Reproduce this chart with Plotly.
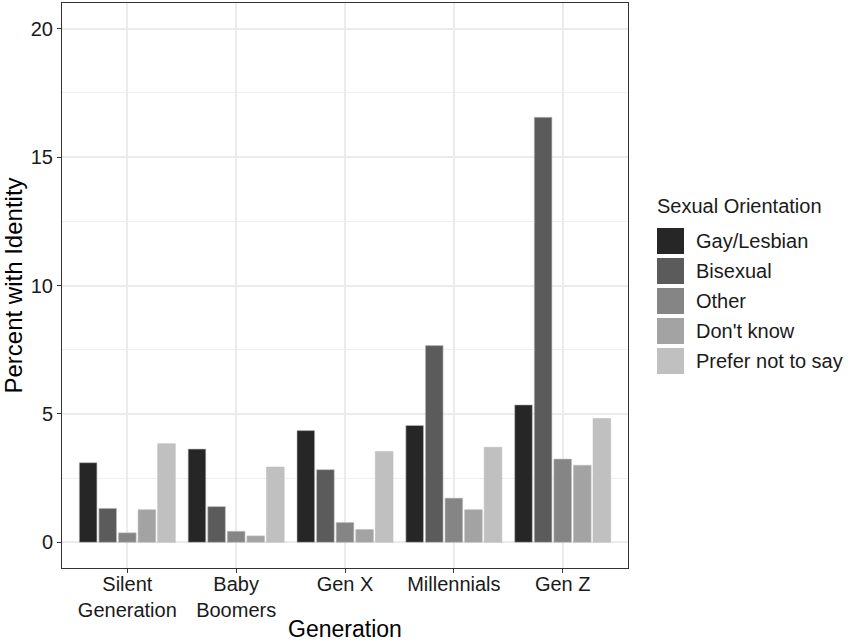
import plotly.graph_objects as go

generations = ["Silent<br>Generation", "Baby<br>Boomers", "Gen X", "Millennials", "Gen Z"]
orientations = ["Gay/Lesbian", "Bisexual", "Other", "Don't know", "Prefer not to say"]
gay_lesbian = [3.10, 3.63, 4.35, 4.55, 5.35]
bisexual = [1.32, 1.39, 2.83, 7.66, 16.55]
other = [0.37, 0.43, 0.77, 1.72, 3.24]
dont_know = [1.27, 0.25, 0.50, 1.27, 3.00]
prefer_not = [3.84, 2.93, 3.54, 3.70, 4.82]
series = [gay_lesbian, bisexual, other, dont_know, prefer_not]
colors = ["#262626", "#5b5b5b", "#858585", "#a3a3a3", "#c0c0c0"]
y_ticks = [0, 5, 10, 15, 20]

FONT = "Arial, Liberation Sans, sans-serif"
L, R, T, B = 62, 222, 3, 76
PW, PH = 850 - L - R, 644 - T - B

def px(x):
    return (x - L) / PW

def py(y):
    return 1 - (y - T) / PH

fig = go.Figure()
for name, vals, col in zip(orientations, series, colors):
    fig.add_trace(go.Bar(
        x=list(range(len(generations))), y=vals, name=name,
        marker=dict(color=col, line=dict(width=0.6, color="#bdbdbd")),
        showlegend=False,
    ))

# custom legend (ggplot-style large keys)
fig.add_annotation(xref="paper", yref="paper", x=px(655), y=py(206),
                   text="Sexual Orientation", showarrow=False, xanchor="left", yanchor="middle",
                   font=dict(size=20, color="#1a1a1a", family=FONT))
for i, (name, col) in enumerate(zip(orientations, colors)):
    top = 228 + 30 * i
    fig.add_shape(type="rect", xref="paper", yref="paper",
                  x0=px(657), x1=px(684), y0=py(top), y1=py(top + 26),
                  fillcolor=col, line=dict(width=0))
    fig.add_annotation(xref="paper", yref="paper", x=px(694),
                       y=py(top + 13), text=name, showarrow=False,
                       xanchor="left", yanchor="middle",
                       font=dict(size=20, color="#1a1a1a", family=FONT))

fig.update_layout(
    width=850, height=644,
    margin=dict(l=L, r=R, t=T, b=B),
    barmode="group", bargap=0.1, bargroupgap=0.1,
    plot_bgcolor="white", paper_bgcolor="white",
    font=dict(family=FONT, color="#1a1a1a"),
)
fig.update_xaxes(
    automargin=False,
    range=[-0.6, 4.6], tickmode="array", tickvals=list(range(len(generations))),
    ticktext=generations, tickfont=dict(size=20, color="#1a1a1a"),
    ticklabelstandoff=-6,
    showgrid=True, gridcolor="#ebebeb", gridwidth=2,
    showline=True, mirror=True, linecolor="#333333", linewidth=1,
    ticks="outside", ticklen=4, tickcolor="#333333",
    title=dict(text="Generation", font=dict(size=23, color="#000000"), standoff=0),
    zeroline=False,
)
fig.update_yaxes(
    automargin=False,
    range=[-1, 21], tickmode="array", tickvals=y_ticks, ticktext=[str(t) for t in y_ticks],
    tickfont=dict(size=20, color="#1a1a1a"),
    showgrid=True, gridcolor="#ebebeb", gridwidth=2,
    minor=dict(showgrid=True, gridcolor="#efefef", gridwidth=1.4, dtick=2.5, tick0=0),
    showline=True, mirror=True, linecolor="#333333", linewidth=1,
    ticks="outside", ticklen=4, tickcolor="#333333",
    title=dict(text="Percent with Identity", font=dict(size=24, color="#000000"), standoff=6),
    zeroline=False,
)

fig.write_html("out.html", config={"displayModeBar": False},
               post_script="document.body.style.margin='0';document.body.style.overflow='hidden';")
